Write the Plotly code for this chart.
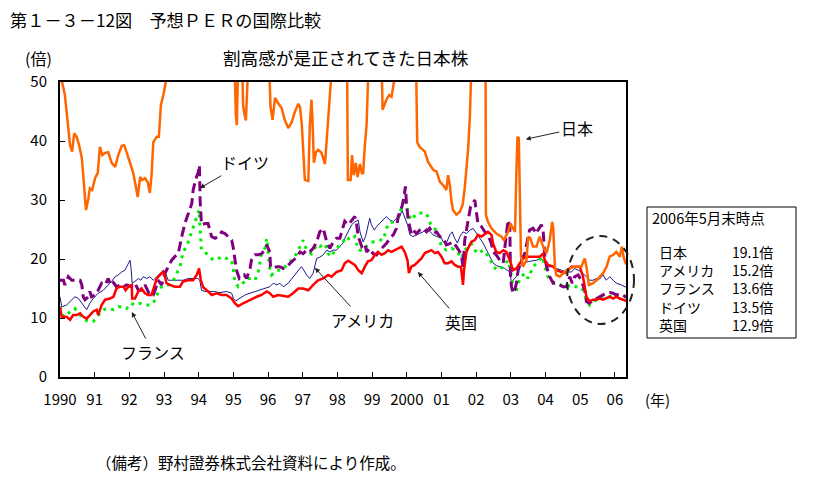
import plotly.graph_objects as go

FONT = "Noto Sans CJK JP"

YEAR_TICKS = list(range(1990, 2007))
YEAR_LABELS = ["1990", "91", "92", "93", "94", "95", "96", "97", "98", "99",
               "2000", "01", "02", "03", "04", "05", "06"]

# Japan (goes above 50 at times; clipped by the axis range)
JP_T = [1990.00, 1990.06, 1990.14, 1990.22, 1990.29, 1990.35, 1990.41, 1990.48, 1990.55, 1990.63,
        1990.70, 1990.75, 1990.82, 1990.86, 1990.93, 1991.01, 1991.09, 1991.15, 1991.22, 1991.30,
        1991.39, 1991.49, 1991.59, 1991.68, 1991.78, 1991.85, 1991.92, 1992.02, 1992.11, 1992.18,
        1992.24, 1992.31, 1992.37, 1992.45, 1992.53, 1992.59, 1992.64, 1992.69, 1992.79, 1992.85,
        1992.91, 1992.98, 1993.05, 1993.10, 1993.40, 1993.70, 1994.10, 1994.50, 1994.90, 1995.03,
        1995.07, 1995.10, 1995.13, 1995.24, 1995.28, 1995.32, 1995.36, 1995.42, 1995.70, 1996.00,
        1996.05, 1996.07, 1996.13, 1996.20, 1996.29, 1996.39, 1996.48, 1996.58, 1996.68, 1996.77,
        1996.87, 1996.92, 1996.97, 1997.01, 1997.06, 1997.16, 1997.20, 1997.25, 1997.28, 1997.32,
        1997.38, 1997.44, 1997.54, 1997.64, 1997.69, 1997.75, 1997.80, 1997.84, 1997.87, 1998.05,
        1998.25, 1998.28, 1998.30, 1998.38, 1998.42, 1998.47, 1998.53, 1998.58, 1998.65, 1998.70,
        1998.74, 1998.79, 1998.84, 1998.88, 1998.90, 1999.10, 1999.27, 1999.30, 1999.41, 1999.49,
        1999.56, 1999.63, 1999.65, 1999.90, 2000.10, 2000.25, 2000.28, 2000.30, 2000.37, 2000.47,
        2000.52, 2000.61, 2000.76, 2000.86, 2000.95, 2001.05, 2001.14, 2001.19, 2001.24, 2001.29,
        2001.33, 2001.43, 2001.53, 2001.61, 2001.67, 2001.72, 2001.77, 2001.82, 2001.84, 2001.87,
        2002.00, 2002.20, 2002.27, 2002.28, 2002.34, 2002.44, 2002.58, 2002.73, 2002.80, 2002.92,
        2002.99, 2003.06, 2003.12, 2003.16, 2003.19, 2003.23, 2003.26, 2003.29, 2003.35, 2003.45,
        2003.50, 2003.56, 2003.64, 2003.74, 2003.83, 2003.93, 2004.03, 2004.12, 2004.19, 2004.22,
        2004.27, 2004.31, 2004.41, 2004.50, 2004.60, 2004.70, 2004.84, 2004.94, 2005.03, 2005.13,
        2005.18, 2005.25, 2005.37, 2005.47, 2005.56, 2005.66, 2005.76, 2005.85, 2005.95, 2006.04,
        2006.14, 2006.20, 2006.25, 2006.32]
JP_V = [56, 50, 47.8, 42.7, 39.3, 38.2, 41.3, 40.7, 39.3, 37.1,
        32.5, 28.3, 30.3, 32, 31.7, 33.7, 34.6, 39, 37.6, 38,
        38.1, 36.3, 35.6, 37.6, 39.2, 39.3, 38.1, 36.3, 34.6, 32.5,
        30.5, 33.9, 33.4, 33.7, 33, 31.2, 34.2, 39.8, 40.7, 40.7,
        46.1, 47.8, 50, 55, 65, 62, 75, 70, 60, 54,
        44.5, 42.7, 52, 56, 46, 44.5, 43.5, 52, 60, 58,
        51, 45.8, 43.6, 47.3, 46.4, 45.6, 43.6, 42.2, 43.2, 44.9,
        46.3, 45.8, 43, 38.5, 33.4, 33.2, 42.2, 47, 43.6, 36.3,
        38.1, 38.5, 38, 36.1, 39.8, 43.6, 46.6, 50, 55, 60,
        56, 51, 33.4, 33.4, 37.6, 34.2, 36.3, 33.9, 36.1, 34.6,
        34.4, 39.3, 42.7, 50, 56, 60, 55, 45.3, 47, 47.8,
        47.5, 50, 55, 70, 80, 60, 50, 39.8, 39, 38.5,
        38.2, 36.5, 35.1, 34.8, 33.1, 32.5, 31.7, 34.2, 32.5, 29.7,
        28.3, 27.5, 28, 29.2, 32, 35.4, 38.8, 44.4, 50, 60,
        80, 70, 55, 27.5, 26.3, 25.2, 24.3, 23.8, 23.2, 24.6,
        26, 25.2, 24.6, 34.8, 40.7, 40.5, 33.1, 20.7, 18.7, 19.8,
        23.8, 23.5, 22.1, 22.1, 23.8, 22.1, 21, 23.2, 26.3, 25.5,
        18.7, 17.3, 17, 17.6, 18.1, 18.4, 18.7, 18.7, 18.7, 20.1,
        18.7, 15.6, 15.9, 16.4, 17, 17.6, 18.7, 20.4, 20.7, 21.2,
        20.4, 22.1, 20.4, 19.1]

# United States
US_T = [1990.00, 1990.05, 1990.19, 1990.34, 1990.43, 1990.53, 1990.63, 1990.72, 1990.77, 1990.86,
        1990.96, 1991.10, 1991.25, 1991.39, 1991.49, 1991.59, 1991.68, 1991.78, 1991.87, 1991.95,
        1992.02, 1992.05, 1992.08, 1992.16, 1992.26, 1992.33, 1992.40, 1992.50, 1992.59, 1992.69,
        1992.79, 1992.88, 1992.98, 1993.03, 1993.12, 1993.22, 1993.41, 1993.55, 1993.70, 1993.84,
        1993.97, 1994.03, 1994.08, 1994.18, 1994.42, 1994.61, 1994.80, 1994.95, 1995.00, 1995.07,
        1995.19, 1995.33, 1995.48, 1995.62, 1995.76, 1995.91, 1996.05, 1996.15, 1996.25, 1996.34,
        1996.44, 1996.58, 1996.72, 1996.87, 1996.96, 1997.03, 1997.11, 1997.20, 1997.30, 1997.40,
        1997.49, 1997.59, 1997.69, 1997.78, 1997.88, 1997.97, 1998.07, 1998.16, 1998.21, 1998.31,
        1998.41, 1998.50, 1998.60, 1998.65, 1998.74, 1998.81, 1998.88, 1998.93, 1998.98, 1999.06,
        1999.13, 1999.22, 1999.32, 1999.41, 1999.51, 1999.61, 1999.70, 1999.80, 1999.86, 1999.94,
        2000.02, 2000.09, 2000.18, 2000.28, 2000.37, 2000.47, 2000.57, 2000.66, 2000.76, 2000.86,
        2000.95, 2001.05, 2001.14, 2001.24, 2001.31, 2001.38, 2001.46, 2001.53, 2001.62, 2001.72,
        2001.82, 2001.91, 2002.01, 2002.10, 2002.20, 2002.30, 2002.39, 2002.49, 2002.58, 2002.68,
        2002.82, 2002.97, 2003.02, 2003.06, 2003.16, 2003.26, 2003.35, 2003.54, 2003.74, 2003.88,
        2003.98, 2004.07, 2004.22, 2004.31, 2004.46, 2004.60, 2004.75, 2004.84, 2004.94, 2005.03,
        2005.18, 2005.27, 2005.37, 2005.47, 2005.56, 2005.66, 2005.75, 2005.85, 2005.95, 2006.04,
        2006.19, 2006.28, 2006.32]
US_V = [13.6, 11.9, 12.2, 13.1, 13.6, 13.3, 12.5, 11.6, 11.4, 12.5,
        13.3, 14.2, 14.7, 15.6, 16.2, 17, 17.3, 17.8, 18.1, 19,
        19.8, 18.4, 15.9, 16.2, 16.7, 16.4, 17, 16.7, 17, 16.4,
        17, 17.6, 18.1, 17.8, 16.4, 16.4, 16.4, 16.4, 16.7, 16.7,
        16.7, 16.4, 14.7, 14.5, 14.5, 14.3, 14.5, 14.2, 13.3, 12.9,
        13.3, 13.9, 14.2, 14.5, 14.7, 15, 15.3, 15.9, 15.6, 15.9,
        15.3, 15.9, 17, 18.1, 18.7, 18.1, 17.3, 16.7, 17.6, 20.1,
        20.3, 20.7, 21.5, 21.2, 21.5, 21.5, 22.1, 22.7, 23.5, 24.6,
        25.8, 26.3, 26.6, 24.6, 22.9, 23.8, 26, 26.9, 25.8, 24.9,
        25.5, 26, 26.6, 27.2, 26.6, 26.3, 26.9, 27.2, 28.3, 27.2,
        25.8, 24.1, 23.8, 24.1, 24.3, 24.6, 25.2, 24.6, 24.1, 23.8,
        24.1, 22.9, 22.7, 24.1, 24.6, 23.5, 22.7, 23.8, 24.6, 24.3,
        24.9, 25.2, 24.3, 23.5, 22.7, 21.5, 20.4, 19.3, 18.9, 18.7,
        18.4, 17.8, 15.9, 16.4, 17, 18.7, 19.3, 19.6, 19.8, 20.1,
        19.3, 18.7, 18.7, 18.4, 18.1, 17.8, 17.8, 18.4, 18.1, 17.8,
        17, 16.4, 16.4, 16.7, 16.6, 17.3, 16.4, 17, 16.4, 15.9,
        15.6, 15.4, 15.2]

# United Kingdom
UK_T = [1990.00, 1990.05, 1990.19, 1990.29, 1990.38, 1990.48, 1990.58, 1990.67, 1990.77, 1990.86,
        1990.96, 1991.06, 1991.10, 1991.20, 1991.30, 1991.44, 1991.54, 1991.63, 1991.73, 1991.83,
        1991.89, 1991.97, 1992.07, 1992.08, 1992.16, 1992.26, 1992.35, 1992.45, 1992.54, 1992.64,
        1992.71, 1992.79, 1992.88, 1992.98, 1993.03, 1993.07, 1993.17, 1993.31, 1993.46, 1993.55,
        1993.70, 1993.84, 1993.94, 1994.01, 1994.06, 1994.13, 1994.27, 1994.37, 1994.52, 1994.66,
        1994.80, 1994.95, 1995.04, 1995.14, 1995.28, 1995.48, 1995.67, 1995.81, 1995.96, 1996.05,
        1996.15, 1996.29, 1996.44, 1996.58, 1996.72, 1996.87, 1997.01, 1997.16, 1997.30, 1997.44,
        1997.59, 1997.73, 1997.83, 1997.97, 1998.12, 1998.21, 1998.31, 1998.41, 1998.50, 1998.60,
        1998.70, 1998.79, 1998.88, 1998.98, 1999.08, 1999.17, 1999.27, 1999.37, 1999.46, 1999.56,
        1999.65, 1999.75, 1999.85, 1999.94, 2000.02, 2000.06, 2000.13, 2000.23, 2000.33, 2000.42,
        2000.52, 2000.61, 2000.71, 2000.81, 2000.90, 2001.00, 2001.09, 2001.19, 2001.29, 2001.38,
        2001.48, 2001.56, 2001.59, 2001.62, 2001.65, 2001.72, 2001.79, 2001.86, 2001.96, 2002.05,
        2002.15, 2002.25, 2002.34, 2002.44, 2002.49, 2002.58, 2002.68, 2002.78, 2002.87, 2002.97,
        2003.02, 2003.06, 2003.16, 2003.26, 2003.35, 2003.45, 2003.64, 2003.83, 2003.93, 2003.98,
        2004.07, 2004.22, 2004.31, 2004.46, 2004.55, 2004.65, 2004.75, 2004.89, 2004.99, 2005.08,
        2005.18, 2005.27, 2005.37, 2005.47, 2005.56, 2005.66, 2005.75, 2005.85, 2005.95, 2006.04,
        2006.14, 2006.23, 2006.32]
UK_V = [11.9, 10.2, 10.2, 9.7, 10.5, 10.5, 10.8, 10.2, 9.9, 10.5,
        11.1, 11.4, 10.5, 12.2, 13.1, 13.3, 13.6, 15, 15.3, 15.3,
        14.7, 15.3, 15.6, 13.3, 13.3, 14.5, 15, 14.2, 13.9, 13.9,
        15.3, 16.7, 17.3, 17.8, 17, 15.9, 15.6, 15.3, 15.3, 16.2,
        16.4, 16.4, 17.3, 18.4, 16.4, 15.2, 14.5, 13.9, 14.2, 13.9,
        13.9, 13.3, 12.5, 12, 12.5, 13.1, 13.6, 13.9, 14.5, 14.2,
        13.6, 13.9, 13.7, 13.6, 14.2, 15, 15, 14.7, 15.6, 16.4,
        16.7, 17.3, 17, 17.8, 18.1, 19.3, 19.7, 19.3, 19, 18.1,
        17.6, 18.7, 19.6, 19.8, 20.7, 21.2, 20.7, 21, 21.5, 21.2,
        21.5, 21.8, 22.1, 21.2, 19.8, 17.6, 18.7, 19, 19.6, 20.1,
        21, 21.2, 21.5, 21, 21.2, 20.4, 19.3, 19.3, 19.6, 19,
        18.7, 18.7, 17, 15.6, 18.1, 21.2, 22.1, 22.9, 23.2, 24.1,
        23.8, 24.3, 24.6, 24.1, 22.6, 21.2, 21, 21.5, 21.2, 19.8,
        18.7, 18.1, 18.4, 19.3, 20.1, 20.4, 20.4, 20.4, 20.9, 19.8,
        19, 18.7, 18.1, 17.8, 17.6, 18.1, 18.7, 18.7, 18.7, 17,
        13.6, 12.8, 13.1, 13.1, 13.3, 13.1, 13.3, 13.6, 13.3, 13.6,
        13.3, 13.1, 12.9]

# Germany
DE_T = [1990.00, 1990.10, 1990.14, 1990.24, 1990.34, 1990.43, 1990.58, 1990.63, 1990.67, 1990.72,
        1990.82, 1990.86, 1990.91, 1991.01, 1991.10, 1991.20, 1991.30, 1991.39, 1991.44, 1991.49,
        1991.63, 1991.73, 1991.83, 1991.92, 1992.05, 1992.16, 1992.26, 1992.35, 1992.45, 1992.59,
        1992.69, 1992.74, 1992.83, 1992.93, 1993.03, 1993.12, 1993.22, 1993.31, 1993.41, 1993.51,
        1993.60, 1993.70, 1993.80, 1993.84, 1993.91, 1993.99, 1994.02, 1994.04, 1994.08, 1994.18,
        1994.27, 1994.37, 1994.47, 1994.56, 1994.66, 1994.76, 1994.85, 1994.95, 1994.99, 1995.04,
        1995.09, 1995.17, 1995.24, 1995.31, 1995.38, 1995.48, 1995.52, 1995.62, 1995.71, 1995.81,
        1995.91, 1995.96, 1996.05, 1996.07, 1996.15, 1996.25, 1996.34, 1996.44, 1996.53, 1996.63,
        1996.72, 1996.82, 1996.92, 1997.01, 1997.11, 1997.20, 1997.30, 1997.40, 1997.49, 1997.59,
        1997.69, 1997.78, 1997.88, 1997.97, 1998.07, 1998.16, 1998.21, 1998.31, 1998.41, 1998.50,
        1998.55, 1998.60, 1998.70, 1998.79, 1998.84, 1998.93, 1999.03, 1999.13, 1999.22, 1999.32,
        1999.41, 1999.51, 1999.61, 1999.70, 1999.75, 1999.80, 1999.86, 1999.92, 1999.96, 1999.99,
        2000.04, 2000.13, 2000.18, 2000.28, 2000.37, 2000.47, 2000.57, 2000.66, 2000.76, 2000.86,
        2000.95, 2001.05, 2001.14, 2001.24, 2001.33, 2001.43, 2001.53, 2001.58, 2001.62, 2001.67,
        2001.72, 2001.77, 2001.84, 2001.91, 2001.96, 2002.05, 2002.15, 2002.25, 2002.34, 2002.44,
        2002.49, 2002.58, 2002.68, 2002.78, 2002.85, 2002.92, 2002.97, 2002.99, 2003.02, 2003.06,
        2003.11, 2003.16, 2003.21, 2003.31, 2003.40, 2003.47, 2003.54, 2003.64, 2003.74, 2003.78,
        2003.88, 2003.93, 2003.98, 2004.03, 2004.12, 2004.22, 2004.31, 2004.41, 2004.50, 2004.60,
        2004.70, 2004.77, 2004.84, 2004.94, 2005.03, 2005.13, 2005.18, 2005.27, 2005.37, 2005.47,
        2005.56, 2005.66, 2005.75, 2005.85, 2005.95, 2006.04, 2006.14, 2006.23, 2006.32]
DE_V = [16.4, 16.4, 15.6, 17, 16.4, 16.4, 16.4, 15.6, 13.6, 13.1,
        13.6, 14.5, 13.6, 13.9, 14.7, 15.9, 15.6, 16.7, 15.9, 16.4,
        15.3, 15.6, 15.3, 15.6, 15.3, 15.9, 14.7, 14.7, 15.6, 13.9,
        13.9, 14.7, 16.4, 15.6, 17.6, 18.7, 19.8, 20.4, 20.9, 23.8,
        26, 27.7, 29.4, 31.7, 33.4, 34.8, 35.9, 30, 25.8, 26,
        26, 23.8, 23.5, 23.8, 24.6, 24.3, 23.8, 23.2, 22.1, 19.8,
        18.1, 16.7, 17, 17.3, 16.7, 18.4, 19.8, 20.7, 20.7, 20.9,
        21.5, 22.4, 21.2, 18.7, 18.4, 18.7, 18.7, 18.4, 18.7, 19.3,
        19.8, 20.3, 21.2, 20.9, 21.5, 21.2, 21.8, 22.9, 24.6, 25.2,
        22.9, 21.8, 22.9, 23.5, 23.5, 25.2, 26.4, 25.8, 26.6, 27.2,
        26, 23.8, 22.1, 22.6, 21.2, 21.8, 20.9, 20.7, 21.5, 22.1,
        22.6, 23.5, 24.1, 25.2, 27.2, 28, 28.9, 30.5, 32.3, 29.4,
        26.6, 24.3, 24.9, 24.3, 24.9, 25.2, 24.6, 25.2, 24.3, 24.6,
        23.8, 23.5, 22.4, 22.6, 22.9, 22.1, 21.2, 20.4, 18.7, 23.2,
        25.2, 26.6, 28.9, 29.4, 30, 26, 25.5, 24.6, 24.1, 22.6,
        21.2, 20.7, 19.8, 19.3, 23.2, 26.6, 25.5, 17, 15.3, 14.2,
        14.7, 15.9, 18.1, 19.8, 20.9, 23.2, 24.9, 25.2, 24.3, 24.9,
        25.8, 24.9, 20.4, 18.7, 17, 15.9, 15.9, 15.6, 15.3, 15.3,
        17, 15.9, 17, 17.3, 16.4, 14.7, 12.8, 12.5, 13.1, 13.3,
        13.6, 13.9, 14.2, 14.3, 14.2, 13.9, 14.1, 13.9, 13.5]

# France
FR_T = [1990.00, 1990.10, 1990.24, 1990.43, 1990.53, 1990.72, 1990.82, 1990.96, 1991.06, 1991.15,
        1991.25, 1991.39, 1991.54, 1991.68, 1991.78, 1991.92, 1992.05, 1992.16, 1992.31, 1992.45,
        1992.59, 1992.69, 1992.79, 1992.88, 1992.98, 1993.12, 1993.27, 1993.36, 1993.46, 1993.55,
        1993.65, 1993.75, 1993.84, 1993.94, 1994.01, 1994.03, 1994.06, 1994.08, 1994.23, 1994.42,
        1994.56, 1994.71, 1994.80, 1994.95, 1995.00, 1995.04, 1995.14, 1995.24, 1995.38, 1995.52,
        1995.62, 1995.71, 1995.81, 1995.91, 1995.96, 1996.05, 1996.10, 1996.25, 1996.39, 1996.53,
        1996.68, 1996.82, 1996.92, 1997.01, 1997.11, 1997.25, 1997.40, 1997.49, 1997.64, 1997.73,
        1997.83, 1997.92, 1998.02, 1998.16, 1998.26, 1998.36, 1998.50, 1998.60, 1998.74, 1998.88,
        1999.03, 1999.17, 1999.32, 1999.46, 1999.61, 1999.75, 1999.86, 1999.94, 2000.04, 2000.13,
        2000.28, 2000.42, 2000.57, 2000.71, 2000.86, 2001.00, 2001.14, 2001.29, 2001.43, 2001.58,
        2001.67, 2001.77, 2001.86, 2001.96, 2002.05, 2002.20, 2002.30, 2002.39, 2002.49, 2002.63,
        2002.78, 2002.92, 2002.99, 2003.06, 2003.14, 2003.21, 2003.31, 2003.40, 2003.50, 2003.64,
        2003.74, 2003.83, 2003.91, 2003.98, 2004.07, 2004.17, 2004.31, 2004.46, 2004.60, 2004.75,
        2004.87, 2004.99, 2005.08, 2005.18, 2005.27, 2005.37, 2005.47, 2005.56, 2005.71, 2005.85,
        2005.95, 2006.04, 2006.14, 2006.32]
FR_V = [11.9, 10.2, 10.8, 11.6, 10.8, 9.7, 9.4, 9.4, 10.2, 10.8,
        11.4, 11.6, 11.4, 11.9, 11.9, 11.6, 12.5, 12.2, 12.5, 12.2,
        12.2, 12.5, 13.9, 15, 15.6, 15.6, 16.4, 17.6, 18.7, 21.2,
        22.1, 23.8, 25.5, 27.2, 28.3, 26, 23.2, 21.5, 20.9, 19.8,
        20.1, 20.4, 20.1, 19.8, 18.1, 16.2, 15.3, 15.6, 16.7, 16.7,
        16.4, 17.6, 20.9, 21.8, 23.5, 18.4, 17.3, 18.1, 18.1, 19,
        19.8, 20.9, 22.1, 23.2, 21.5, 20.9, 22.4, 22.1, 22.6, 20.9,
        20.4, 21.5, 22.1, 22.9, 23.8, 23.2, 23.8, 21.5, 21.5, 22.4,
        22.9, 23.2, 23.2, 26, 26.3, 26.9, 28.9, 30.3, 27.7, 26.6,
        27.7, 27.8, 27.7, 25.5, 24.9, 22.1, 21.5, 21.8, 21.5, 20.1,
        21.5, 22.1, 22.6, 21.5, 20.9, 21.5, 20.9, 20.2, 18.7, 18.1,
        18.7, 19.8, 18.1, 15.3, 14.2, 15.9, 17, 17.6, 16.7, 18.7,
        19.3, 19.8, 20.4, 18.7, 17, 16.2, 15.9, 15.6, 15.3, 15.6,
        15.3, 15.3, 14.7, 13.1, 12.2, 12.8, 13.1, 13.1, 13.3, 13.6,
        13.9, 13.6, 13.6, 13.6]

SUMMARY_TITLE = "2006年5月末時点"
SUMMARY_NAMES = ["日本", "アメリカ", "フランス", "ドイツ", "英国"]
SUMMARY_VALUES = ["19.1倍", "15.2倍", "13.6倍", "13.5倍", "12.9倍"]

fig = go.Figure()
fig.add_trace(go.Scatter(x=US_T, y=US_V, mode="lines", name="アメリカ",
                         line=dict(color="#1a1a8c", width=1)))
fig.add_trace(go.Scatter(x=FR_T, y=FR_V, mode="lines", name="フランス",
                         line=dict(color="#00ee00", width=3, dash="3px,5px")))
fig.add_trace(go.Scatter(x=DE_T, y=DE_V, mode="lines", name="ドイツ",
                         line=dict(color="#800080", width=3, dash="10px,5px")))
fig.add_trace(go.Scatter(x=UK_T, y=UK_V, mode="lines", name="英国",
                         line=dict(color="#ff0000", width=2.5)))
fig.add_trace(go.Scatter(x=JP_T, y=JP_V, mode="lines", name="日本",
                         line=dict(color="#ff6600", width=2.5)))

# The page places the figure 8 px from the top-left corner (default body margin),
# so the figure is sized to the remaining window area.
PAGE_OFF = 8
W, H = 814 - PAGE_OFF, 498 - PAGE_OFF
PLOT_X0, PLOT_X1, PLOT_Y0, PLOT_Y1 = 60, 626, 82, 377   # in window pixels
L = PLOT_X0 - PAGE_OFF
T = PLOT_Y0 - PAGE_OFF
R = W - (PLOT_X1 - PAGE_OFF)
B = H - (PLOT_Y1 - PAGE_OFF)
PW, PH = PLOT_X1 - PLOT_X0, PLOT_Y1 - PLOT_Y0


def px(xp):
    return (xp - PLOT_X0) / PW


def py(yp):
    return (PLOT_Y1 - yp) / PH


annotations = []
box_font = dict(family=FONT, size=14, color="black")


def note(text, xw, yw, anchor="left", size=15):
    annotations.append(dict(text=text, xref="paper", yref="paper", x=px(xw), y=py(yw),
                            xanchor=anchor, yanchor="middle", showarrow=False, borderpad=0,
                            font=dict(family=FONT, size=size, color="black")))


note("第１－３－12図　予想ＰＥＲの国際比較", 9, 20, "left", 17.2)
note("割高感が是正されてきた日本株", 346, 58, "center", 17.6)
note("(倍)", 38, 58, "center", 16)
note("(年)", 657, 399, "center", 15)
note("（備考）野村證券株式会社資料により作成。", 95, 462, "left", 15.5)

# summary box
note(SUMMARY_TITLE, 651, 217, "left", 14.5)
annotations.append(dict(text="<br>".join(SUMMARY_NAMES), xref="paper", yref="paper",
                        x=px(657), y=py(288), xanchor="left", yanchor="middle", align="left",
                        showarrow=False, font=box_font))
annotations.append(dict(text="<br>".join(SUMMARY_VALUES), xref="paper", yref="paper",
                        x=px(730), y=py(288), xanchor="left", yanchor="middle", align="left",
                        showarrow=False, font=box_font))

# arrow labels (arrow tip in data coords, text offset in px)
arrow_labels = [
    ("ドイツ", 1994.03, 32.0, 45, -26),
    ("日本", 2003.43, 40.3, 51, -11),
    ("フランス", 1992.07, 11.0, 21, 40),
    ("アメリカ", 1997.35, 18.5, 48, 52),
    ("英国", 2000.32, 17.8, 43, 50),
]
for txt, xx, yy, axp, ayp in arrow_labels:
    annotations.append(dict(text=txt, x=xx, y=yy, xref="x", yref="y", ax=axp, ay=ayp,
                            showarrow=True, arrowhead=2, arrowsize=1, arrowwidth=1,
                            arrowcolor="#222222", font=dict(family=FONT, size=16, color="black")))

shapes = [
    dict(type="rect", xref="paper", yref="paper", x0=px(647), x1=px(796), y0=py(338), y1=py(207),
         line=dict(color="black", width=1)),
    dict(type="circle", xref="paper", yref="paper", x0=px(567), x1=px(634), y0=py(324), y1=py(236),
         line=dict(color="#222222", width=2, dash="8px,6px")),
]

fig.update_layout(
    width=W, height=H,
    margin=dict(l=L, r=R, t=T, b=B, pad=0),
    paper_bgcolor="white", plot_bgcolor="white",
    showlegend=False,
    font=dict(family=FONT, size=14, color="black"),
    annotations=annotations,
    shapes=shapes,
    xaxis=dict(range=[1990, 2006.32], tickvals=YEAR_TICKS, ticktext=YEAR_LABELS,
               ticks="inside", ticklen=5, tickwidth=1, tickcolor="black",
               showline=True, linewidth=2, linecolor="black", mirror=True,
               showgrid=False, zeroline=False, automargin=False,
               ticklabelstandoff=8, tickfont=dict(family=FONT, size=15)),
    yaxis=dict(range=[0, 50], tickvals=[0, 10, 20, 30, 40, 50],
               ticks="inside", ticklen=5, tickwidth=1, tickcolor="black",
               showline=True, linewidth=2, linecolor="black", mirror=True,
               showgrid=False, zeroline=False, automargin=False,
               ticklabelstandoff=8, tickfont=dict(family=FONT, size=15)),
)

fig.write_html("out.html")
